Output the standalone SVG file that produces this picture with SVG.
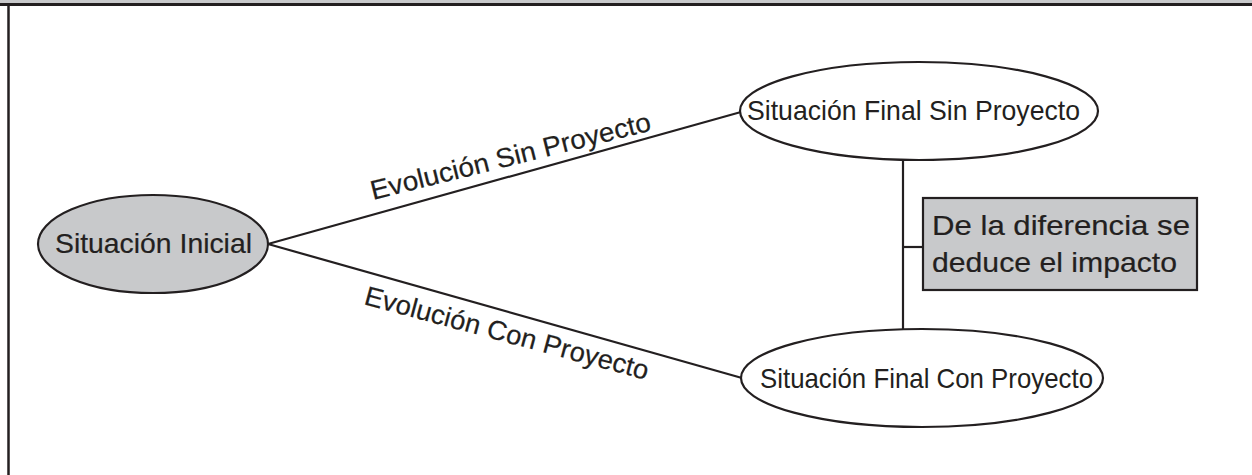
<svg xmlns="http://www.w3.org/2000/svg" width="1252" height="475" viewBox="0 0 1252 475">
<style>
  .node { stroke: #231f20; stroke-width: 2.2; }
  .gray { fill: #c8c9cb; }
  .white { fill: #ffffff; }
  .conn { stroke: #231f20; stroke-width: 2.2; fill: none; }
  text { font-family: "Liberation Sans", Arial, sans-serif; fill: #231f20; font-size: 28px; }
  .lbl { font-size: 27px; }
  .med { stroke: #231f20; stroke-width: 0.2; }
</style>
<rect x="0" y="0" width="1252" height="475" fill="#ffffff"/>
<g id="frame">
  <rect x="0" y="0" width="1252" height="3" fill="#c8c9cb"/>
  <rect x="0" y="3" width="1252" height="3" fill="#231f20"/>
  <line x1="8.5" y1="6" x2="8.5" y2="475" stroke="#231f20" stroke-width="2.5"/>
</g>
<g id="connectors">
  <line class="conn" x1="268" y1="244" x2="741" y2="112"/>
  <line class="conn" x1="268" y1="244" x2="742" y2="378"/>
  <line class="conn" x1="903" y1="160" x2="903" y2="330"/>
  <line class="conn" x1="903" y1="247" x2="923" y2="247"/>
  <text class="lbl med" transform="translate(373,200) rotate(-14)" x="0" y="0" textLength="288" lengthAdjust="spacingAndGlyphs">Evolución Sin Proyecto</text>
  <text class="lbl med" transform="translate(363,304) rotate(15)" x="0" y="0" textLength="293" lengthAdjust="spacingAndGlyphs">Evolución Con Proyecto</text>
</g>
<g id="inicial">
  <ellipse class="node gray" cx="153" cy="244" rx="115" ry="49"/>
  <text class="med" x="55" y="253" textLength="197" lengthAdjust="spacingAndGlyphs">Situación Inicial</text>
</g>
<g id="final-sin">
  <ellipse class="node white" cx="919" cy="111" rx="179" ry="49"/>
  <text x="747" y="120" textLength="333" lengthAdjust="spacingAndGlyphs">Situación Final Sin Proyecto</text>
</g>
<g id="final-con">
  <ellipse class="node white" cx="922" cy="378" rx="181" ry="49"/>
  <text x="760" y="388" textLength="333" lengthAdjust="spacingAndGlyphs">Situación Final Con Proyecto</text>
</g>
<g id="diferencia">
  <rect class="node gray" x="923" y="198" width="274" height="92"/>
  <text class="med" x="932" y="235" textLength="258" lengthAdjust="spacingAndGlyphs">De la diferencia se</text>
  <text class="med" x="932" y="272" textLength="245" lengthAdjust="spacingAndGlyphs">deduce el impacto</text>
</g>
</svg>
